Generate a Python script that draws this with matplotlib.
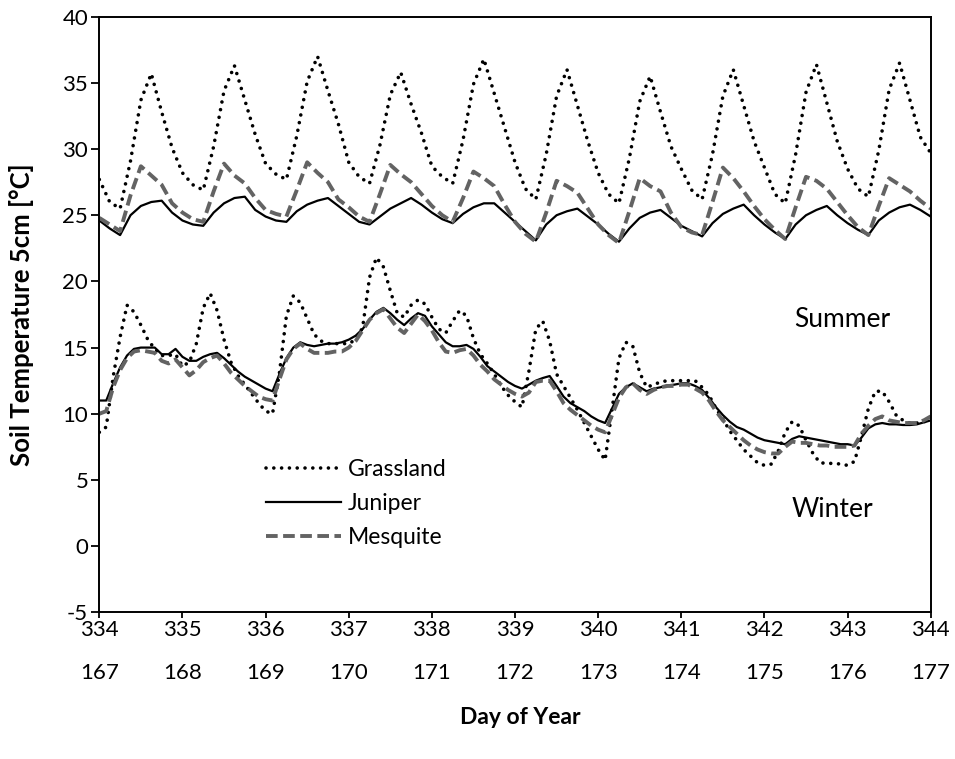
import numpy as np
import matplotlib
matplotlib.use("Agg")
import matplotlib.pyplot as plt

plt.rcParams['font.family'] = ['Lato', 'DejaVu Sans']
plt.rcParams['axes.unicode_minus'] = False

# ---------------- data ----------------
day_ticks = [334, 335, 336, 337, 338, 339, 340, 341, 342, 343, 344]
summer_doy = [167, 168, 169, 170, 171, 172, 173, 174, 175, 176, 177]
y_ticks = [-5, 0, 5, 10, 15, 20, 25, 30, 35, 40]

summer_step_h = 3   # hours between summer readings
winter_step_h = 2   # hours between winter readings

summer_grassland = [
    27.7, 26.0, 25.5, 29.1, 33.7, 35.7, 32.8, 30.1,
    28.2, 27.3, 26.9, 30.2, 34.4, 36.3, 33.7, 31.1,
    28.9, 28.1, 27.7, 31.0, 35.1, 37.0, 34.4, 31.9,
    29.0, 27.9, 27.4, 30.3, 34.1, 35.8, 33.4, 31.2,
    28.7, 27.9, 27.4, 30.7, 34.9, 36.8, 34.2, 31.6,
    29.0, 27.0, 26.2, 29.6, 34.0, 36.0, 33.3, 30.6,
    28.2, 26.6, 25.9, 29.3, 33.6, 35.5, 32.8, 30.2,
    28.5, 26.9, 26.2, 29.6, 34.0, 36.0, 33.3, 30.6,
    28.6, 26.6, 25.9, 29.6, 34.3, 36.4, 33.5, 30.6,
    28.5, 27.0, 26.4, 29.9, 34.5, 36.5, 33.7, 30.9,
    29.7]

summer_juniper = [
    24.6, 24.0, 23.5, 25.0, 25.7, 26.0, 26.1, 25.2,
    24.6, 24.3, 24.2, 25.2, 25.9, 26.3, 26.4, 25.4,
    24.9, 24.6, 24.5, 25.3, 25.8, 26.1, 26.3, 25.7,
    25.1, 24.5, 24.3, 24.9, 25.5, 25.9, 26.3, 25.8,
    25.2, 24.7, 24.4, 25.1, 25.6, 25.9, 25.9, 25.2,
    24.5, 23.8, 23.1, 24.3, 25.0, 25.3, 25.5, 24.9,
    24.3, 23.6, 23.0, 24.0, 24.8, 25.2, 25.4, 24.8,
    24.2, 23.8, 23.4, 24.4, 25.1, 25.5, 25.8, 25.0,
    24.3, 23.7, 23.2, 24.3, 25.0, 25.4, 25.7, 25.0,
    24.4, 23.9, 23.5, 24.6, 25.2, 25.6, 25.8, 25.4,
    24.9]

summer_mesquite = [
    24.8, 24.3, 23.8, 26.5, 28.7, 28.0, 27.3, 25.9,
    25.2, 24.7, 24.5, 26.8, 28.9, 28.0, 27.4, 26.3,
    25.4, 25.1, 24.9, 26.9, 29.0, 28.2, 27.5, 26.2,
    25.6, 24.9, 24.5, 26.6, 28.8, 28.1, 27.5, 26.6,
    25.7, 25.0, 24.5, 26.3, 28.3, 27.8, 27.2, 25.8,
    24.5, 23.6, 23.0, 25.2, 27.6, 27.2, 26.7, 25.5,
    24.3, 23.5, 22.9, 25.3, 27.8, 27.2, 26.8, 25.2,
    24.1, 23.7, 23.5, 26.0, 28.6, 27.8, 26.8, 25.7,
    24.7, 23.9, 23.2, 25.6, 27.9, 27.6, 27.0, 26.0,
    25.0, 24.1, 23.5, 25.7, 27.8, 27.3, 26.8, 26.1,
    25.5]

winter_grassland = [
    8.6, 9.0, 12.8, 15.8, 18.2, 17.7, 16.7, 15.6, 14.9, 14.4, 14.4, 14.5,
    13.6, 13.9, 15.3, 18.0, 19.1, 17.8, 15.6, 13.9, 12.9, 12.2, 11.5, 10.8,
    10.2, 10.0, 13.1, 17.4, 18.9, 18.4, 17.2, 16.0, 15.5, 15.3, 15.3, 15.3,
    15.3, 15.6, 16.5, 20.3, 21.8, 21.1, 19.3, 17.6, 17.3, 18.2, 18.6, 18.3,
    17.3, 16.4, 16.1, 17.0, 17.8, 17.4, 15.7, 14.5, 13.8, 13.0, 12.1, 11.4,
    10.9, 10.5, 13.2, 16.4, 17.0, 15.5, 13.0, 12.1, 11.2, 10.3, 9.3, 8.3,
    7.3, 6.5, 10.3, 14.2, 15.4, 15.1, 13.1, 12.0, 12.2, 12.4, 12.5, 12.5,
    12.5, 12.5, 12.5, 12.0, 11.4, 10.4, 9.6, 8.7, 8.0, 7.3, 6.8, 6.3,
    6.1, 6.2, 7.2, 8.6, 9.4, 9.1, 8.0, 7.0, 6.3, 6.25, 6.25, 6.2,
    6.1, 6.4, 8.3, 10.4, 11.7, 11.7, 10.9, 9.9, 9.5, 9.3, 9.3, 9.4,
    9.5]

winter_juniper = [
    11.0, 11.0, 12.3, 13.5, 14.4, 14.9, 15.0, 15.0, 15.0, 14.5, 14.5, 14.9,
    14.3, 14.0, 14.0, 14.3, 14.5, 14.6, 14.2, 13.7, 13.2, 12.8, 12.5, 12.2,
    11.9, 11.7, 13.0, 14.2, 15.0, 15.4, 15.2, 15.1, 15.2, 15.3, 15.3, 15.4,
    15.6, 15.9, 16.4, 17.1, 17.7, 18.0, 17.6, 17.1, 16.7, 17.2, 17.6, 17.4,
    16.6, 16.0, 15.4, 15.1, 15.1, 15.2, 14.9, 14.3, 13.6, 13.2, 12.8, 12.4,
    12.1, 11.9, 12.2, 12.5, 12.7, 12.85, 12.1, 11.3, 10.8, 10.5, 10.2, 9.8,
    9.5, 9.3, 10.4, 11.5, 12.0, 12.3, 12.0, 11.7, 11.9, 12.0, 12.15, 12.2,
    12.3, 12.3, 12.1, 11.8, 11.2, 10.5, 9.9, 9.4, 9.0, 8.8, 8.5, 8.2,
    8.0, 7.9, 7.8, 7.7, 8.1, 8.3, 8.2, 8.1, 8.0, 7.9, 7.8, 7.7,
    7.7, 7.6, 8.2, 8.9, 9.2, 9.3, 9.2, 9.2, 9.15, 9.15, 9.2, 9.35,
    9.5]

winter_mesquite = [
    10.0, 10.2, 12.0, 13.3, 14.2, 14.7, 14.8, 14.7, 14.6, 14.0, 13.8, 14.1,
    13.5, 12.9, 13.3, 13.9, 14.2, 14.4, 13.8, 13.1, 12.6, 12.1, 11.7, 11.3,
    11.1, 11.0, 12.6, 14.1, 14.9, 15.3, 14.9, 14.6, 14.6, 14.6, 14.7, 14.7,
    15.0, 15.5, 16.3, 17.1, 17.6, 17.9, 17.2, 16.5, 16.1, 16.8, 17.5, 17.0,
    16.3, 15.4, 14.7, 14.6, 14.8, 14.9, 14.4, 13.7, 13.2, 12.6, 12.2, 11.8,
    11.5, 11.3, 11.6, 12.4, 12.5, 12.5, 11.7, 10.8, 10.3, 9.9, 9.5, 9.1,
    8.8, 8.6, 9.9, 11.2, 12.0, 12.3, 11.8, 11.5, 11.8, 12.0, 12.1, 12.1,
    12.2, 12.2, 11.9, 11.6, 11.0, 10.2, 9.5, 9.0, 8.5, 8.0, 7.6, 7.3,
    7.1, 7.0, 7.0, 7.5, 7.9, 7.8, 7.8, 7.7, 7.6, 7.6, 7.5, 7.5,
    7.5, 7.6, 8.5, 9.1, 9.6, 9.8, 9.5, 9.4, 9.3, 9.3, 9.3, 9.5,
    9.8]

# ---------------- figure ----------------
fig = plt.figure(figsize=(9.55, 7.59), dpi=100)
ax = fig.add_axes([0.104, 0.1933, 0.8706, 0.7847])

start = day_ticks[0]
x_s = start + np.arange(len(summer_grassland)) * summer_step_h / 24.0
x_w = start + np.arange(len(winter_grassland)) * winter_step_h / 24.0

dot_style = dict(color='black', lw=2.6, linestyle=(0, (0.01, 2.15)),
                 dash_capstyle='round')
sol_style = dict(color='black', lw=1.6, linestyle='-')
das_style = dict(color='#636363', lw=2.8, linestyle=(0, (3.0, 1.4)))

lg, = ax.plot(x_s, summer_grassland, label='Grassland', **dot_style)
lj, = ax.plot(x_s, summer_juniper, label='Juniper', **sol_style)
lm, = ax.plot(x_s, summer_mesquite, label='Mesquite', **das_style)
ax.plot(x_w, winter_grassland, **dot_style)
ax.plot(x_w, winter_juniper, **sol_style)
ax.plot(x_w, winter_mesquite, **das_style)

ax.set_xlim(day_ticks[0], day_ticks[-1])
ax.set_ylim(-5, 40)
ax.set_xticks(day_ticks)
ax.set_xticklabels([f"{d}\n{s}" for d, s in zip(day_ticks, summer_doy)],
                   linespacing=2.45)
ax.set_yticks(y_ticks)
ax.set_yticklabels([str(v) for v in y_ticks])
ax.tick_params(axis='both', direction='out', width=1.3,
               labelsize=16, colors='black')
ax.tick_params(axis='y', length=5.5, pad=2.5)
ax.tick_params(axis='x', length=4.5, pad=1.2)
for sp in ax.spines.values():
    sp.set_linewidth(1.4)
    sp.set_color('black')

ax.text(8.93 + start, 17.1, 'Summer', fontsize=19, ha='center', va='center')
ax.text(8.82 + start, 2.8, 'Winter', fontsize=19, ha='center', va='center')

leg = ax.legend(handles=[lg, lj, lm], loc='upper left',
                bbox_to_anchor=(0.2, 0.257), frameon=False,
                fontsize=16.5, handlelength=3.3, handletextpad=0.3,
                labelspacing=0.57, borderpad=0, borderaxespad=0)

fig.text(0.545, 0.055, 'Day of Year', fontsize=16.5, fontweight='bold',
         ha='center', va='center')
fig.text(0.023, 0.585, 'Soil Temperature 5cm [°C]', fontsize=18.5,
         fontweight='bold', ha='center', va='center', rotation=90)

fig.savefig('out.png', dpi=100)
